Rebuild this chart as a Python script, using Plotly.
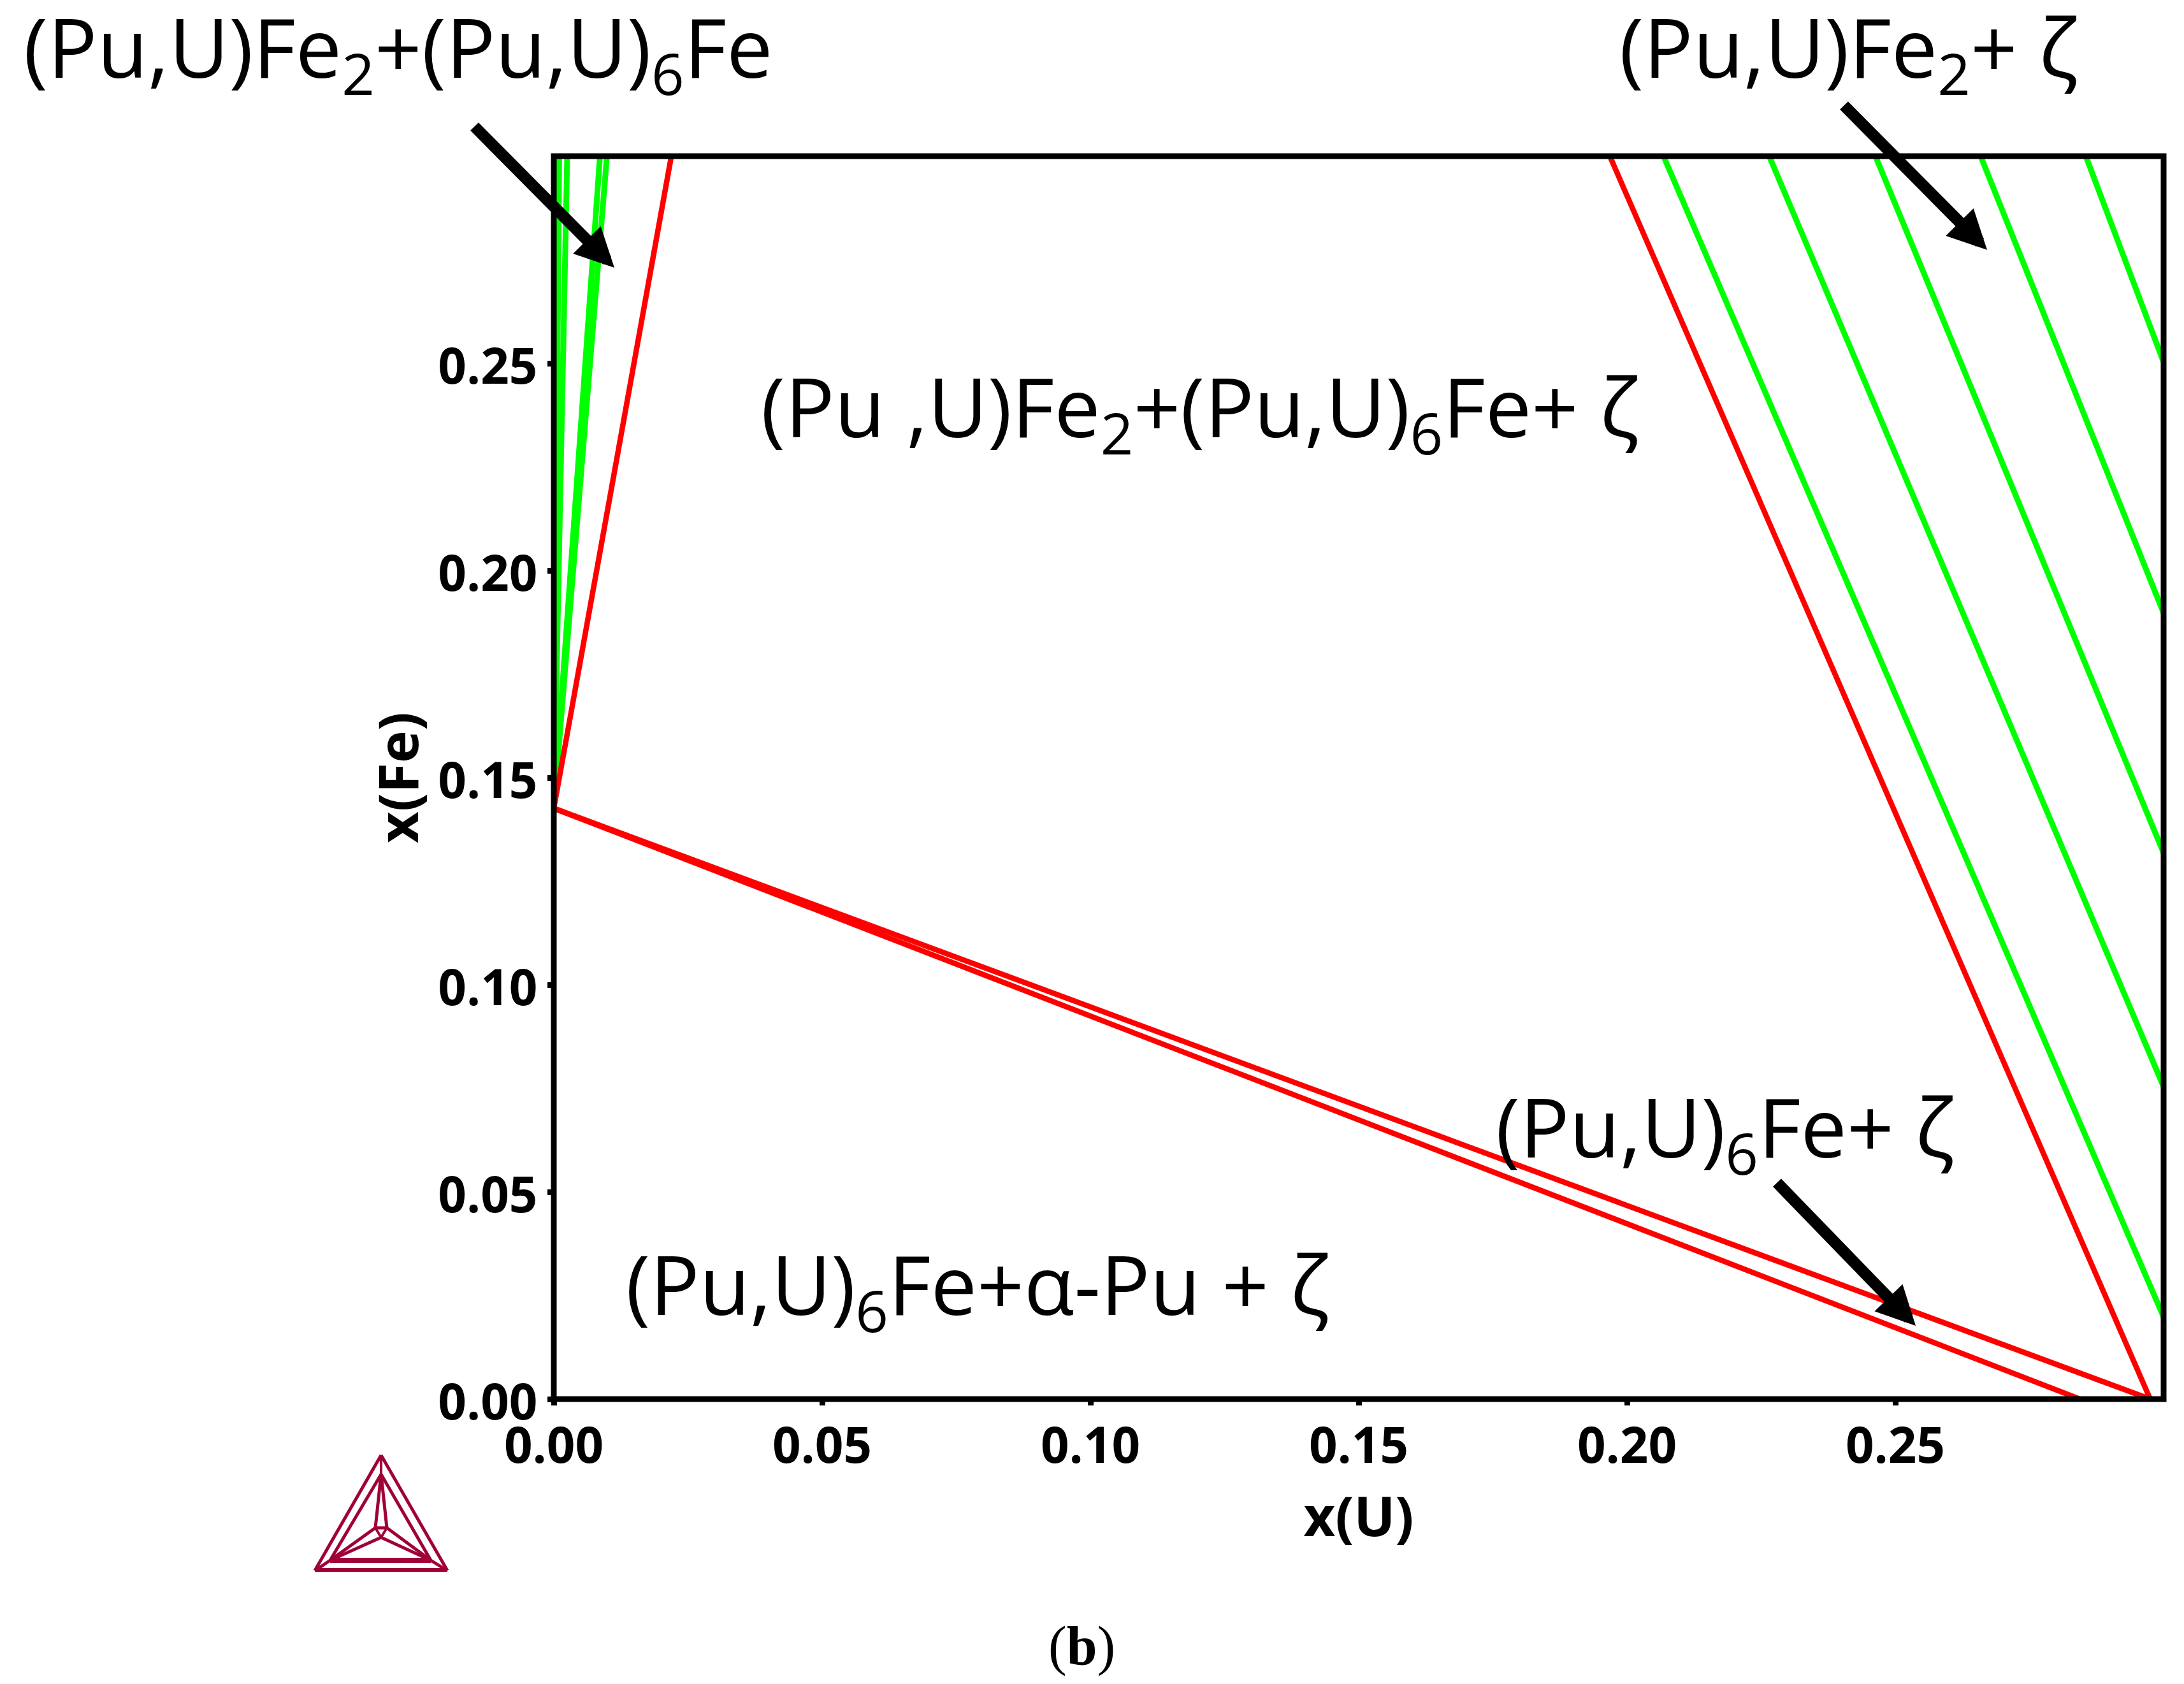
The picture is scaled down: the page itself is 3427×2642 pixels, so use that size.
import plotly.graph_objects as go

# tie lines, x(U) and x(Fe) at both ends of each line
left_green_x = [[0.0, 0.0010], [0.0, 0.0025], [0.0, 0.0086], [0.0, 0.0099]]
left_green_y = [[0.1426, 0.30], [0.1426, 0.30], [0.1426, 0.30], [0.1426, 0.30]]
right_green_x = [[0.2068, 0.30], [0.2265, 0.30], [0.2463, 0.30], [0.2659, 0.30], [0.2855, 0.30]]
right_green_y = [[0.30, 0.0198], [0.30, 0.0754], [0.30, 0.1318], [0.30, 0.1897], [0.30, 0.2503]]

red_x = [[0.0, 0.0219], [0.1968, 0.2975], [0.0, 0.2975], [0.0, 0.2844]]
red_y = [[0.1426, 0.30], [0.30, 0.0], [0.1426, 0.0], [0.1426, 0.0]]

tick_vals = [0.0, 0.05, 0.10, 0.15, 0.20, 0.25]
tick_text = ["0.00", "0.05", "0.10", "0.15", "0.20", "0.25"]

# the page body has an 8px margin, so the figure is 16px smaller and everything moves up-left
PAGE = 8
W, H = 3427 - 2 * PAGE, 2642 - 2 * PAGE
L, R, T, B = 869 - PAGE, 3395 - PAGE, 245 - PAGE, 2195 - PAGE


def paper_x(px):
    return (px - PAGE - L) / (R - L)


def paper_y(py):
    return (B - (py - PAGE)) / (B - T)


fig = go.Figure()

for xs, ys in zip(left_green_x + right_green_x, left_green_y + right_green_y):
    fig.add_trace(go.Scatter(x=xs, y=ys, mode="lines", line=dict(color="#00ff00", width=9)))

for xs, ys in zip(red_x, red_y):
    fig.add_trace(go.Scatter(x=xs, y=ys, mode="lines", line=dict(color="#ff0000", width=8.5)))

tick_font = dict(family="Open Sans", size=78, color="black", weight="bold")
fig.update_xaxes(range=[0, 0.30], tickvals=tick_vals, ticktext=tick_text, ticks="outside", ticklen=9,
                 tickwidth=9, tickcolor="black", showgrid=False, zeroline=False, showline=False,
                 ticklabelstandoff=-4, tickfont=tick_font,
                 title=dict(text="<b>x(U)</b>", font=dict(family="Open Sans", size=86, color="black"), standoff=30))
fig.update_yaxes(range=[0, 0.30], tickvals=tick_vals, ticktext=tick_text, ticks="outside", ticklen=9,
                 tickwidth=9, tickcolor="black", showgrid=False, zeroline=False, showline=False,
                 ticklabelshift=5, tickfont=tick_font,
                 title=dict(text="<b>x(Fe)</b>", font=dict(family="Open Sans", size=86, color="black"), standoff=2))

# frame
shapes = [dict(type="rect", xref="paper", yref="paper", x0=0, x1=1, y0=0, y1=1,
               line=dict(color="black", width=9), layer="above")]

# thermo-calc logo
logo = "#a00038"
logo_lines = [
    ((598, 2283), (494, 2464), 5), ((598, 2283), (702, 2464), 5), ((494, 2463), (702, 2463), 6),
    ((598, 2313), (518, 2448), 5), ((598, 2313), (676, 2448), 5), ((518, 2448), (676, 2448), 8),
    ((598, 2285), (598, 2313), 4), ((496, 2463), (518, 2448), 5), ((700, 2463), (676, 2448), 5),
    ((598, 2313), (589, 2397), 5), ((598, 2313), (607, 2397), 5), ((589, 2397), (607, 2397), 5),
    ((589, 2397), (518, 2448), 5), ((607, 2397), (676, 2448), 5),
    ((598, 2412), (518, 2448), 5), ((598, 2412), (676, 2448), 5),
    ((589, 2397), (598, 2412), 4), ((607, 2397), (598, 2412), 4),
]
for a, b, w in logo_lines:
    shapes.append(dict(type="line", xref="paper", yref="paper", x0=paper_x(a[0]), y0=paper_y(a[1]),
                       x1=paper_x(b[0]), y1=paper_y(b[1]), line=dict(color=logo, width=w)))

label_font = dict(family="Open Sans", size=129, color="black")
labels = [
    ("(Pu,U)Fe<sub>2</sub>+(Pu,U)<sub>6</sub>Fe", 37, 125),
    ("(Pu,U)Fe<sub>2</sub>+ ζ", 2541, 125),
    ("(Pu ,U)Fe<sub>2</sub>+(Pu,U)<sub>6</sub>Fe+ ζ", 1194, 689),
    ("(Pu,U)<sub>6</sub>Fe+ ζ", 2347, 1819),
    ("(Pu,U)<sub>6</sub>Fe+α-Pu + ζ", 982, 2066),
]
annotations = []
for text, px, base in labels:
    annotations.append(dict(text=text, x=paper_x(px), y=paper_y(base + 50), xref="paper", yref="paper",
                            xanchor="left", yanchor="bottom", showarrow=False, font=label_font,
                            borderpad=0, borderwidth=0))

arrows = [((743, 197), (964, 420)), ((2892, 164), (3118, 392)), ((2787, 1854), (3006, 2080))]
for tail, tip in arrows:
    annotations.append(dict(text="", x=paper_x(tip[0]), y=paper_y(tip[1]), xref="paper", yref="paper",
                            ax=tail[0] - tip[0], ay=tail[1] - tip[1], showarrow=True, arrowhead=2,
                            arrowsize=0.68, arrowwidth=18, arrowcolor="black"))

annotations.append(dict(text="(<b>b</b>)", x=paper_x(1697), y=paper_y(2582), xref="paper", yref="paper",
                        xanchor="center", yanchor="middle", showarrow=False,
                        font=dict(family="Liberation Serif", size=86, color="black")))

fig.update_layout(width=W, height=H, margin=dict(l=L, r=W - R, t=T, b=H - B), showlegend=False,
                  plot_bgcolor="white", paper_bgcolor="white", shapes=shapes, annotations=annotations)

fig.write_html("out.html")
